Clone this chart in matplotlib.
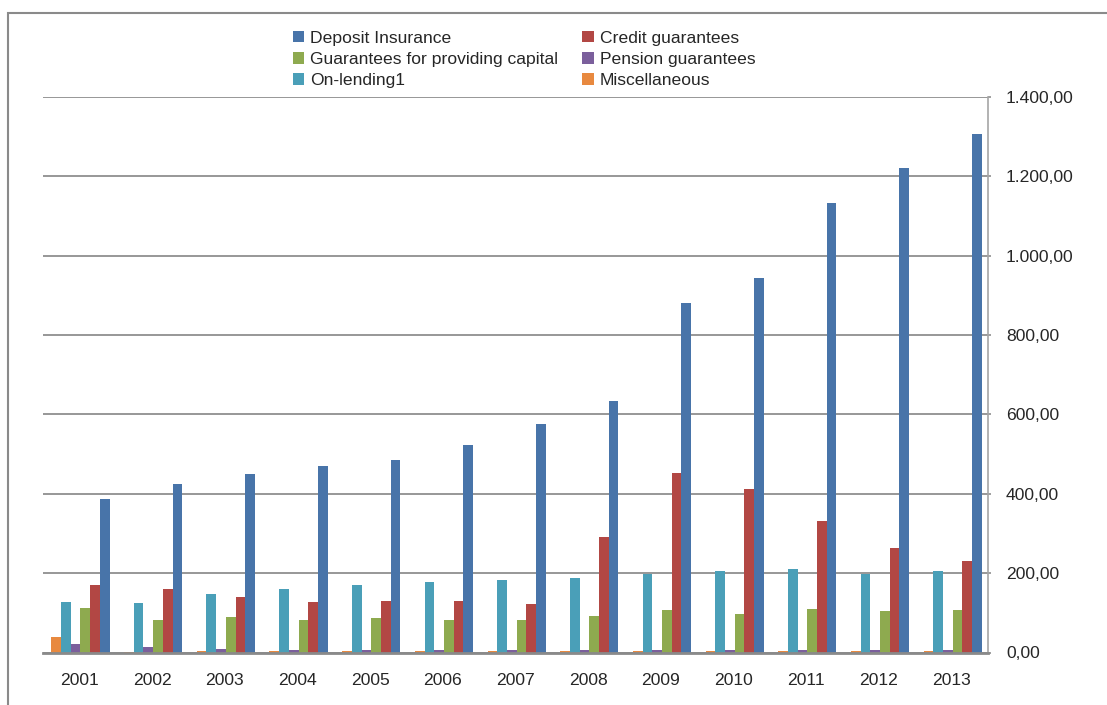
import matplotlib
matplotlib.use('Agg')
import matplotlib.pyplot as plt
import numpy as np
from matplotlib.patches import Rectangle, Patch
from matplotlib.ticker import FuncFormatter

plt.rcParams['font.family'] = ['Liberation Sans', 'DejaVu Sans']

# data
years = ['2001', '2002', '2003', '2004', '2005', '2006', '2007',
         '2008', '2009', '2010', '2011', '2012', '2013']
misc = [39, 2, 3, 3, 3, 3, 3, 3, 3, 3, 3, 3, 3]
onlending = [127, 125, 148, 161, 171, 178, 182, 188, 197, 206, 211, 199, 206]
pension = [21, 14, 9, 7, 7, 7, 7, 6, 6, 6, 6, 6, 6]
capital = [112, 82, 90, 82, 87, 81, 81, 92, 106, 96, 109, 105, 108]
credit = [171, 159, 140, 128, 129, 131, 122, 292, 452, 411, 331, 263, 230]
deposit = [386, 425, 450, 471, 486, 523, 575, 635, 882, 943, 1134, 1220, 1307]

names = ['Miscellaneous', 'On-lending1', 'Pension guarantees',
         'Guarantees for providing capital', 'Credit guarantees', 'Deposit Insurance']
series = [misc, onlending, pension, capital, credit, deposit]
colors = ['#E8893F', '#4A9FB8', '#7B5F9C', '#8EAA4F', '#B24744', '#4874A9']

W, H = 1107, 705
fig = plt.figure(figsize=(W / 100, H / 100), dpi=100)
ax = fig.add_axes([43 / W, 1 - 652.5 / H, 945 / W, 555.5 / H])

x = np.arange(len(years))
bw = 1 / 7.5
for i, (vals, col) in enumerate(zip(series, colors)):
    ax.bar(x + (i - 2.5) * bw + 0.015, vals, width=bw, color=col, zorder=3,
           edgecolor='none')

ax.set_xlim(-0.5, len(years) - 0.5)
ax.set_ylim(0, 1400)
ax.set_yticks(np.arange(0, 1401, 200))
ax.yaxis.tick_right()
ax.yaxis.set_major_formatter(FuncFormatter(
    lambda v, p: f'{v:,.2f}'.replace(',', 'X').replace('.', ',').replace('X', '.')))
ax.tick_params(axis='y', length=2, width=1.2, color='#8f8f8f', pad=11,
               labelsize=12.6, labelcolor='#262626')
ax.set_xticks(x)
ax.set_xticklabels(years)
ax.tick_params(axis='x', length=0, pad=15, labelsize=12.6, labelcolor='#262626')
ax.grid(axis='y', color='#8f8f8f', linewidth=1.3, zorder=0)

for s in ['left', 'top']:
    ax.spines[s].set_visible(False)
ax.spines['right'].set_color('#a6a6a6')
ax.spines['right'].set_linewidth(1.2)
ax.spines['bottom'].set_color('#8a8a8a')
ax.spines['bottom'].set_linewidth(2)
ax.spines['bottom'].set_zorder(4)

# legend (filled column-wise, so order to read row-wise like the original)
order = [5, 3, 1, 4, 2, 0]
handles = [Patch(facecolor=colors[k], edgecolor='none') for k in order]
labels = [names[k] for k in order]
fig.legend(handles, labels, ncol=2, frameon=False, loc='upper left',
           bbox_to_anchor=(284 / W, 1 - 22 / H), fontsize=12.6,
           handlelength=0.65, handleheight=0.65, handletextpad=0.35,
           columnspacing=1.37, labelspacing=0.36, borderpad=0,
           labelcolor='#262626')

# outer chart frame
fig.patches.append(Rectangle((8 / W, -0.1), 1.2, 1 - 13 / H + 0.1,
                             transform=fig.transFigure, fill=False,
                             edgecolor='#8a8a8a', linewidth=1.5))

fig.savefig('out.png', dpi=100)
